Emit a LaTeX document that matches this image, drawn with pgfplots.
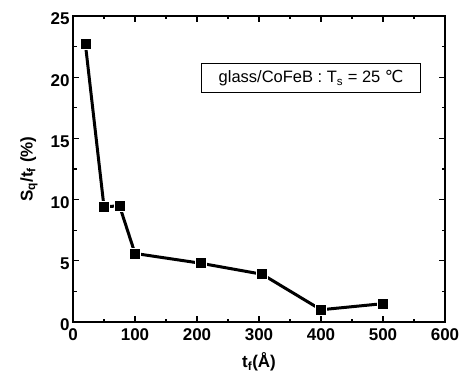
\documentclass[border=0pt]{standalone}
\usepackage{pgfplots}
\pgfplotsset{compat=1.18}
\usepackage{fontspec}
\setmainfont{Liberation Sans}
\newfontfamily\dejavu{DejaVu Sans}
\begin{document}
\begin{tikzpicture}
\begin{axis}[
  scale only axis, width=372pt, height=306pt,
  xmin=0, xmax=600, ymin=0, ymax=25,
  xtick={0,100,...,600}, ytick={0,5,...,25},
  minor x tick num=1, minor y tick num=1,
  tick align=inside, major tick length=6pt, minor tick length=3.5pt,
  axis line style={line width=1.4pt},
  every tick/.style={line width=1.1pt, black},
  /pgf/number format/assume math mode=true,
  ticklabel style={font=\fontsize{17}{19}\selectfont\bfseries},
  xticklabel style={yshift=-3pt},
  yticklabel style={yshift=-3pt},
  label style={font=\fontsize{17}{19}\selectfont\bfseries},
  xlabel={t\textsubscript{f}(Å)},
  ylabel={S\textsubscript{q}/t\textsubscript{f} (\%)},
  xlabel style={yshift=-5pt},
  ylabel style={yshift=6pt},
  clip=false,
]
\addplot[black, line width=3pt, mark=square*, mark size=5.5pt,
  mark options={fill=black, draw=white, line width=0.6pt}]
  coordinates {(20,22.7) (50,9.4) (75,9.5) (100,5.6) (206,4.8) (305,3.9) (400,1.0) (500,1.5)};
\node[draw, line width=1pt, minimum width=219pt, minimum height=29pt,
  inner sep=0pt, font=\fontsize{16.5}{18}\selectfont]
  at (axis cs:384,19.9) {glass/CoFeB : T\textsubscript{s} = 25 {\dejavu ℃}};
\end{axis}
\pgfresetboundingbox
\useasboundingbox ([shift={(-73pt,-50pt)}]current axis.south west) rectangle ([shift={(15pt,16pt)}]current axis.north east);
\end{tikzpicture}
\end{document}
